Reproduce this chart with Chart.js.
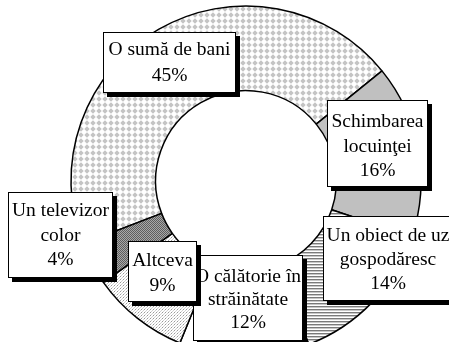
<!DOCTYPE html>
<html>
<head>
<meta charset="utf-8">
<script src="https://cdn.jsdelivr.net/npm/chart.js@4/dist/chart.umd.min.js"></script>
<style>
  html, body { margin: 0; padding: 0; background: #fff; width: 449px; height: 342px; overflow: hidden; }
  #wrap { position: absolute; left: 0; top: 0; width: 449px; height: 362px; }
</style>
</head>
<body>
<div id="wrap"><canvas id="c" width="449" height="362"></canvas></div>
<script>
// ---- data ----
const categories = [
  ['O sumă de bani'],
  ['Schimbarea', 'locuinţei'],
  ['Un obiect de uz', 'gospodăresc'],
  ['O călătorie în', 'străinătate'],
  ['Altceva'],
  ['Un televizor', 'color']
];
const values = [45, 16, 14, 12, 9, 4];

// ---- label box layout (relative to chart centre) ----
const boxLayout = [
  { dx: -143, dy: -149, w: 133, h: 61, lineY: [-131, -105] },
  { dx: 81, dy: -81, w: 101, h: 87, lineY: [-59, -34, -10] },
  { dx: 77, dy: 35, w: 130, h: 85, lineY: [55, 79, 103] },
  { dx: -53, dy: 74, w: 110, h: 86, lineY: [96, 119, 142] },
  { dx: -118, dy: 60, w: 69, h: 61, lineY: [80, 105] },
  { dx: -238, dy: 11, w: 105, h: 86, lineY: [30, 55, 79] }
];

function makePattern(size, draw) {
  const c = document.createElement('canvas');
  c.width = size[0]; c.height = size[1];
  const g = c.getContext('2d');
  draw(g);
  return document.getElementById('c').getContext('2d').createPattern(c, 'repeat');
}
const diamondPat = makePattern([6, 6], g => {
  g.fillStyle = '#fff'; g.fillRect(0, 0, 6, 6);
  g.fillStyle = '#c4c4c4';
  g.beginPath(); g.moveTo(3, 0.3); g.lineTo(5.7, 3); g.lineTo(3, 5.7); g.lineTo(0.3, 3); g.closePath(); g.fill();
});
const hLinePat = makePattern([4, 3], g => {
  g.fillStyle = '#fff'; g.fillRect(0, 0, 4, 3);
  g.fillStyle = '#7a7a7a'; g.fillRect(0, 0, 4, 1);
  g.fillStyle = '#c8c8c8'; g.fillRect(0, 1, 4, 1);
});
const stipplePat = makePattern([3, 3], g => {
  g.fillStyle = '#fff'; g.fillRect(0, 0, 3, 3);
  g.fillStyle = '#9a9a9a'; g.fillRect(0, 0, 1, 1);
  g.fillStyle = '#d0d0d0'; g.fillRect(1, 2, 1, 1); g.fillRect(2, 1, 1, 1);
});
const darkPat = makePattern([2, 2], g => {
  g.fillStyle = '#a8a8a8'; g.fillRect(0, 0, 2, 2);
  g.fillStyle = '#5e5e5e'; g.fillRect(0, 0, 1, 1); g.fillRect(1, 1, 1, 1);
});
const fills = [diamondPat, '#c0c0c0', hLinePat, '#ffffff', stipplePat, darkPat];

const labelPlugin = {
  id: 'boxLabels',
  afterDatasetsDraw(chart) {
    const ctx = chart.ctx;
    const arc = chart.getDatasetMeta(0).data[0];
    const cx = arc.x, cy = arc.y;
    ctx.save();
    ctx.font = '19.5px "Liberation Serif", "Times New Roman", serif';
    ctx.textAlign = 'center';
    ctx.textBaseline = 'middle';
    values.forEach((v, i) => {
      const b = boxLayout[i];
      const x = Math.round(cx + b.dx), y = Math.round(cy + b.dy);
      ctx.fillStyle = '#000';
      ctx.fillRect(x + 4, y + 4, b.w, b.h);
      ctx.fillStyle = '#fff';
      ctx.fillRect(x, y, b.w, b.h);
      ctx.strokeStyle = '#000';
      ctx.lineWidth = 1;
      ctx.strokeRect(x + 0.5, y + 0.5, b.w - 1, b.h - 1);
      const lines = categories[i].concat([v + '%']);
      ctx.fillStyle = '#000';
      lines.forEach((t, k) => {
        ctx.fillText(t, x + b.w / 2, cy + b.lineY[k]);
      });
    });
    ctx.restore();
  }
};

new Chart(document.getElementById('c'), {
  type: 'doughnut',
  data: {
    labels: categories.map(l => l.join(' ')),
    datasets: [{
      data: values,
      backgroundColor: fills,
      borderColor: '#000',
      borderWidth: 1.5,
      hoverOffset: 0
    }]
  },
  options: {
    responsive: false,
    animation: false,
    devicePixelRatio: 1,
    rotation: 249,
    radius: 175,
    cutout: 90,
    layout: { padding: { left: 71, right: 28, top: 6, bottom: 6 } },
    plugins: {
      legend: { display: false },
      tooltip: { enabled: false },
      title: { display: false }
    }
  },
  plugins: [labelPlugin]
});
</script>
</body>
</html>
